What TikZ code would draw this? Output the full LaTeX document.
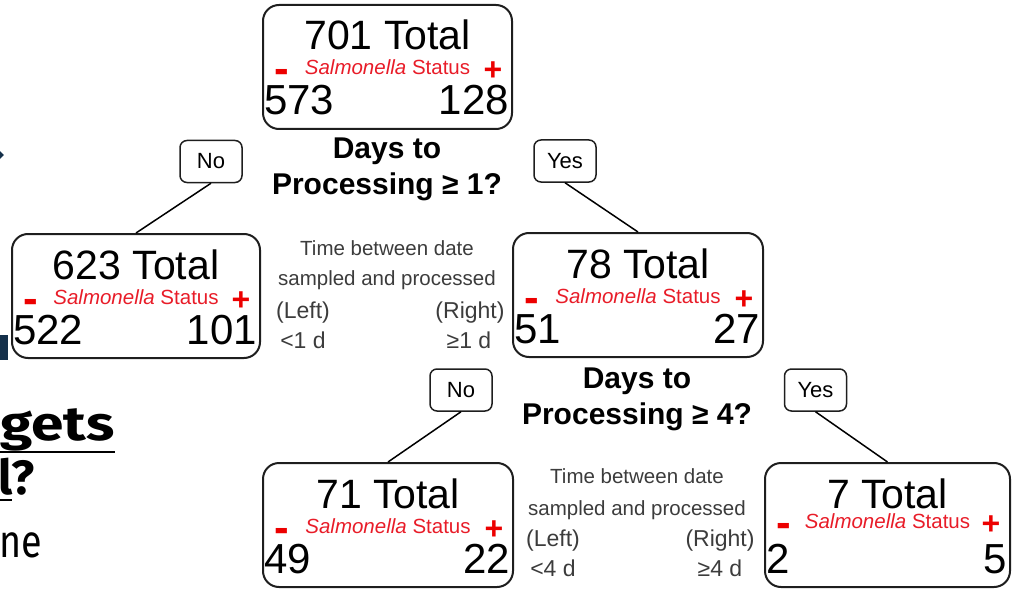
\documentclass[tikz,border=0pt]{standalone}
\usepackage{fontspec}
\setmainfont{Liberation Sans}
\newfontfamily\slidefont{Fira Sans}
\usetikzlibrary{calc}

\definecolor{salred}{RGB}{232,28,40}
\definecolor{signred}{RGB}{236,0,0}
\definecolor{boxline}{RGB}{30,30,30}
\definecolor{notegray}{RGB}{60,60,60}
\definecolor{slidenavy}{RGB}{20,48,74}

\newcommand\fs[1]{\fontsize{#1}{#1}\selectfont}

% contents of one count box: #1 node, #2 total, #3 negatives, #4 positives, #5 baseline of the status line
\newcommand\fillcounts[5]{%
  \node[totaltext] at ($(#1.north)+(0,46)$) {#2 Total};
  \node[statustext] at ($(#1.north)+(0,#5)$) {{\itshape Salmonella} Status};
  \node[minustext] at ($(#1.north west)+(20,{#5+9})$) {-};
  \node[plustext] at ($(#1.north east)+(-20,{#5+6})$) {+};
  \node[counttext, anchor=base west] at ($(#1.north west)+(2,111)$) {#3};
  \node[counttext, anchor=base east] at ($(#1.north east)+(-4,111)$) {#4};
}

\begin{document}
\begin{tikzpicture}[x=1pt,y=-1pt,
  countbox/.style={draw=boxline, line width=2pt, rounded corners=16pt, inner sep=0pt},
  answer/.style={draw=boxline, line width=1.5pt, rounded corners=7pt, minimum width=62pt,
    minimum height=42pt, inner sep=0pt, font=\fs{22}},
  branch/.style={draw=black, line width=1.5pt},
  totaltext/.style={anchor=base, inner sep=0pt, font=\fs{41}},
  counttext/.style={inner sep=0pt, font=\fs{42}},
  statustext/.style={anchor=base, inner sep=0pt, text=salred, font=\fs{20.5}},
  minustext/.style={anchor=base, inner sep=0pt, text=signred, font=\bfseries\fs{44}},
  plustext/.style={anchor=base, inner sep=0pt, text=signred, font=\bfseries\fs{32}},
  question/.style={anchor=base, inner sep=0pt, font=\bfseries\fs{30}},
  noteline/.style={anchor=base, inner sep=0pt, text=notegray, font=\fs{20.5}},
  noteside/.style={anchor=base, inner sep=0pt, text=notegray, font=\fs{23}},
  slidebold/.style={anchor=base west, inner sep=0pt, font=\slidefont\bfseries\fs{48}},
  slidereg/.style={anchor=base west, inner sep=0pt, font=\slidefont\fs{46}},
]
\useasboundingbox (0,0) rectangle (1012,591);

% fragments of the surrounding slide at the left edge
\draw[slidenavy, line width=2.5pt] (-5,148) -- (2,155) -- (-5,162);
\fill[slidenavy] (0,335) rectangle (8,360);
\node[slidebold] (w1) at (0,440) {\scalebox{1.22}[1]{gets}};
\draw[line width=2pt] (-5,452) -- (w1.east |- 0,452);
\node[slidebold] (w2) at (-2,494) {l?};
\draw[line width=2pt] (-5,500) -- (12,500);
\node[slidereg] (w3) at (-1,557) {\scalebox{0.82}[1]{ne}};

% count boxes
\node[countbox, minimum width=249pt, minimum height=124pt] (root)  at (387.5,67) {};
\node[countbox, minimum width=248pt, minimum height=124pt] (left)  at (136,296) {};
\node[countbox, minimum width=250pt, minimum height=124pt] (right) at (638,295) {};
\node[countbox, minimum width=250pt, minimum height=124pt] (bl)    at (388,525) {};
\node[countbox, minimum width=245pt, minimum height=124pt] (br)    at (887.5,525) {};

\fillcounts{root}{701}{573}{128}{71}
\fillcounts{left}{623}{522}{101}{71}
\fillcounts{right}{78}{51}{27}{71}
\fillcounts{bl}{71}{49}{22}{71}
\fillcounts{br}{7}{2}{5}{66}

% split questions
\node[question] (q1a) at (387,158) {Days to};
\node[question] (q1b) at (387,194) {Processing ≥ 1?};
\node[question] (q2a) at (637,388) {Days to};
\node[question] (q2b) at (637,424) {Processing ≥ 4?};

% answers and branches
\node[answer] (no1)  at (211,161.5) {No};
\node[answer] (yes1) at (565,161)   {Yes};
\node[answer] (no2)  at (461,390)   {No};
\node[answer] (yes2) at (815.5,390) {Yes};
\draw[branch] (no1.south)  -- (left.north);
\draw[branch] (yes1.south) -- (right.north);
\draw[branch] (no2.south)  -- (bl.north);
\draw[branch] (yes2.south) -- (br.north);

% split notes
\node[noteline] at (387,255) {Time between date};
\node[noteline] at (387,285) {sampled and processed};
\node[noteside] at (303,318) {(Left)};
\node[noteside] at (470,318) {(Right)};
\node[noteside] at (303,348) {<1 d};
\node[noteside] at (469,348) {≥1 d};

\node[noteline] at (637,483) {Time between date};
\node[noteline] at (637,515) {sampled and processed};
\node[noteside] at (553,546) {(Left)};
\node[noteside] at (720,546) {(Right)};
\node[noteside] at (553,576) {<4 d};
\node[noteside] at (720,576) {≥4 d};
\end{tikzpicture}
\end{document}
